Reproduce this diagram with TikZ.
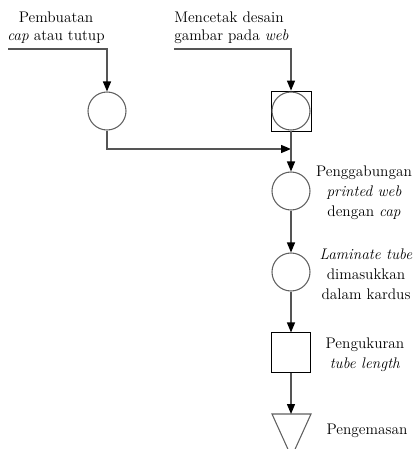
\documentclass[tikz,border=0pt]{standalone}
\usetikzlibrary{arrows.meta}

\definecolor{linegray}{HTML}{555555}
\definecolor{circgray}{HTML}{606060}

\begin{document}
\begin{tikzpicture}[x=0.75pt,y=-0.75pt,
  conn/.style={draw=linegray, line width=1pt},
  flow/.style={conn, -{Triangle[length=7.5pt,width=6pt,color=black]}},
  opcircle/.style={circle, draw=circgray, line width=0.8pt, minimum size=28.5pt, inner sep=0pt},
  opbox/.style={rectangle, draw=black, line width=0.6pt, minimum size=29.5pt, inner sep=0pt},
  lbl/.style={inner sep=0pt, text=black},
  tight/.style={font=\fontsize{11.5}{13.5}\selectfont},
  loose/.style={font=\fontsize{11.5}{15}\selectfont}]
  \useasboundingbox (0,0) rectangle (416,449);

  % operation symbols
  \node[opcircle] (c1) at (107,111) {};
  \node[opbox, minimum size=30pt] (b1) at (291,111) {};
  \node[opcircle] (c2) at (291,111) {};
  \node[opcircle] (c3) at (291,191) {};
  \node[opcircle] (c4) at (291,272) {};
  \node[opbox] (b2) at (291,352.5) {};
  % storage triangle
  \draw[draw=circgray, line width=0.8pt] (272,414) -- (311,414) -- (291.5,457) -- cycle;
  \coordinate (t1) at (291,414);

  % free ends and junction
  \coordinate (in1) at (8,49);
  \coordinate (in2) at (174,49);
  \coordinate (j) at (291,149);

  % connectors
  \draw[flow] (in1) -| (c1.north);
  \draw[flow] (in2) -| (b1.north);
  \draw[flow] (c1.south) |- (j);
  \draw[conn] (b1.south) -- (j);
  \draw[flow] (j) -- (c3.north);
  \draw[flow] (c3.south) -- (c4.north);
  \draw[flow] (c4.south) -- (b2.north);
  \draw[flow] (b2.south) -- (t1);

  % labels
  \node[lbl, tight, align=center] (l1) at (56,28) {Pembuatan\\\textit{cap} atau tutup};
  \node[lbl, tight, align=left, anchor=west] (l2) at (174,28) {Mencetak desain\\gambar pada \textit{web}};
  \node[lbl, loose, align=center] (l3) at (364,193) {Penggabungan\\\textit{printed web}\\dengan \textit{cap}};
  \node[lbl, loose, align=center] (l4) at (366,274) {\textit{Laminate tube}\\dimasukkan\\dalam kardus};
  \node[lbl, loose, align=center] (l5) at (365,355) {Pengukuran\\\textit{tube length}};
  \node[lbl, loose, align=center] (l6) at (367,431) {Pengemasan};
\end{tikzpicture}
\end{document}
